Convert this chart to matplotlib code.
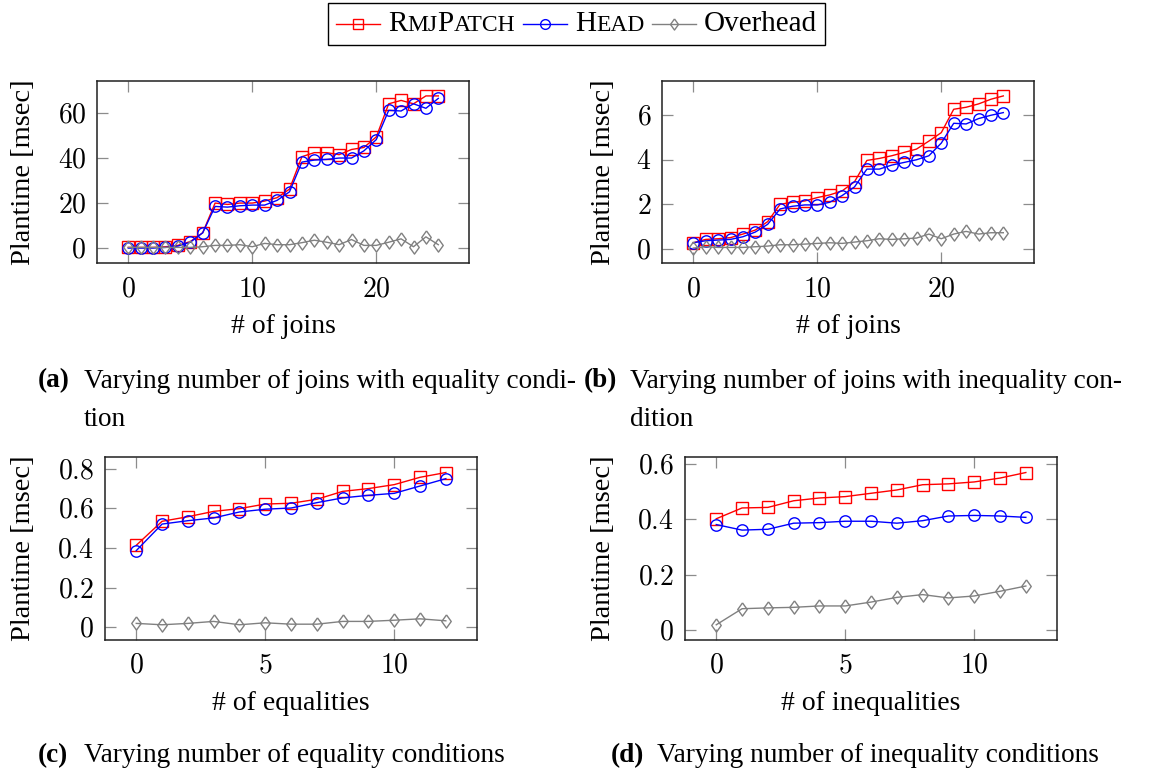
import matplotlib
matplotlib.use("Agg")
import matplotlib.pyplot as plt
from matplotlib.ticker import FuncFormatter, FixedLocator
from matplotlib.lines import Line2D
from matplotlib.offsetbox import AnchoredOffsetbox, DrawingArea, HPacker, TextArea

# ---- data ----
joins = list(range(26))
a_rmj = [0.3, 0.3, 0.3, 0.6, 1.2, 2.9, 6.8, 20.0, 19.4, 20.0, 20.0, 20.9, 22.4, 26.2,
         40.6, 42.4, 42.4, 41.5, 43.8, 44.7, 49.4, 64.1, 65.6, 64.1, 67.6, 67.6]
a_head = [0.0, 0.0, 0.0, 0.3, 0.9, 2.6, 6.8, 18.5, 18.2, 18.8, 19.1, 19.1, 21.2, 25.0,
          38.2, 39.1, 39.4, 40.0, 40.0, 43.2, 48.2, 61.2, 60.9, 64.1, 62.1, 66.5]
a_over = [0.3, 0.3, 0.3, 0.3, 0.3, 0.3, 0.6, 1.2, 1.2, 1.5, 0.6, 2.1, 1.5, 1.5,
          2.4, 3.5, 2.6, 1.5, 3.8, 1.2, 1.2, 2.6, 4.1, 0.6, 5.0, 1.5]

b_rmj = [0.27, 0.42, 0.45, 0.50, 0.66, 0.84, 1.22, 2.00, 2.09, 2.15, 2.30, 2.42, 2.60, 3.01,
         3.97, 4.06, 4.18, 4.33, 4.48, 4.84, 5.22, 6.27, 6.36, 6.51, 6.72, 6.87]
b_head = [0.27, 0.36, 0.39, 0.42, 0.54, 0.75, 1.10, 1.79, 1.91, 1.97, 1.97, 2.09, 2.39, 2.78,
          3.58, 3.58, 3.76, 3.88, 4.00, 4.18, 4.75, 5.64, 5.61, 5.85, 6.00, 6.12]
b_over = [0.03, 0.09, 0.06, 0.06, 0.06, 0.09, 0.12, 0.18, 0.18, 0.21, 0.24, 0.27, 0.24, 0.30,
          0.36, 0.45, 0.42, 0.45, 0.48, 0.66, 0.45, 0.66, 0.78, 0.66, 0.72, 0.72]

conds = list(range(13))
c_rmj = [0.413, 0.534, 0.557, 0.584, 0.598, 0.621, 0.625, 0.645, 0.685, 0.699, 0.719, 0.756, 0.780]
c_head = [0.386, 0.520, 0.537, 0.551, 0.581, 0.595, 0.601, 0.628, 0.652, 0.665, 0.675, 0.712, 0.749]
c_over = [0.019, 0.012, 0.019, 0.029, 0.012, 0.022, 0.015, 0.015, 0.029, 0.029, 0.035, 0.042, 0.032]

d_rmj = [0.402, 0.441, 0.443, 0.467, 0.477, 0.482, 0.494, 0.506, 0.525, 0.528, 0.535, 0.549, 0.569]
d_head = [0.381, 0.361, 0.364, 0.386, 0.388, 0.393, 0.393, 0.386, 0.395, 0.412, 0.414, 0.412, 0.407]
d_over = [0.019, 0.077, 0.080, 0.082, 0.087, 0.087, 0.101, 0.118, 0.128, 0.116, 0.123, 0.140, 0.159]

plt.rcParams['font.family'] = ['Liberation Serif', 'DejaVu Serif']
plt.rcParams['mathtext.fontset'] = 'cm'
FS = 20
CAP_FS = 19.6

W, H = 1159, 778
fig = plt.figure(figsize=(W / 100, H / 100), dpi=100)

# pgfplots-like diamond
diamond = [(0, 1), (0.72, 0), (0, -1), (-0.72, 0), (0, 1)]
RED, BLUE, GRAY = '#ff0000', '#0000ff', '#808080'


def px_axes(left, top, right, bottom):
    return fig.add_axes([left / W, 1 - bottom / H, (right - left) / W, (bottom - top) / H])


def draw(ax, x, rmj, head, over, xticks, yticks, xlabel, ylab_off):
    ax.plot(x, rmj, color=RED, lw=1.0, marker='s', ms=8.2, mfc='none', mew=1.0)
    ax.plot(x, head, color=BLUE, lw=1.0, marker='o', ms=8.2, mfc='none', mew=1.0)
    ax.plot(x, over, color=GRAY, lw=1.0, marker=diamond, ms=9.5, mfc='none', mew=1.0)
    ax.margins(0.1)
    ax.xaxis.set_major_locator(FixedLocator(xticks))
    ax.yaxis.set_major_locator(FixedLocator(yticks))
    fmt = FuncFormatter(lambda v, p: f'${v:g}$')
    ax.xaxis.set_major_formatter(fmt)
    ax.yaxis.set_major_formatter(fmt)
    ax.tick_params(direction='in', length=8, width=0.9, color='#8c8c8c',
                   top=True, right=True, labelsize=FS)
    ax.tick_params(axis='x', pad=10)
    ax.tick_params(axis='y', pad=8)
    for s in ax.spines.values():
        s.set_linewidth(1.1)
        s.set_color('#202020')
    ax.set_xlabel(xlabel, fontsize=FS, va='center')
    ax.set_ylabel('Plantime [msec]', fontsize=20.5, va='center')
    bb = ax.get_position()
    hpx = bb.height * H
    wpx = bb.width * W
    ax.xaxis.set_label_coords(0.5, -63 / hpx)
    ax.yaxis.set_label_coords(ylab_off / wpx, 0.5)


ax_a = px_axes(97.3, 80.7, 469.3, 263.3)
draw(ax_a, joins, a_rmj, a_head, a_over, [0, 10, 20], [0, 20, 40, 60], '# of joins', -74)
ax_b = px_axes(662.3, 80.7, 1034.3, 263.3)
draw(ax_b, joins, b_rmj, b_head, b_over, [0, 10, 20], [0, 2, 4, 6], '# of joins', -59)
ax_c = px_axes(105.3, 457.3, 476.8, 640)
draw(ax_c, conds, c_rmj, c_head, c_over, [0, 5, 10], [0, 0.2, 0.4, 0.6, 0.8], '# of equalities', -82)
ax_d = px_axes(685.3, 457.3, 1056.8, 640)
draw(ax_d, conds, d_rmj, d_head, d_over, [0, 5, 10], [0, 0.2, 0.4, 0.6], '# of inequalities', -82)

# captions
captions = [
    (38, 84, 381, '(a)', ['Varying number of joins with equality condi-', 'tion']),
    (584, 630, 381, '(b)', ['Varying number of joins with inequality con-', 'dition']),
    (38, 84, 756, '(c)', ['Varying number of equality conditions']),
    (611, 657, 756, '(d)', ['Varying number of inequality conditions']),
]
for xl, xt, y, tag, lines in captions:
    fig.text(xl / W, 1 - y / H, tag, fontsize=CAP_FS, weight='bold', va='center', ha='left')
    for i, ln in enumerate(lines):
        fig.text(xt / W, 1 - (y + 38 * i) / H, ln, fontsize=CAP_FS, va='center', ha='left')


# legend with small caps labels
def handle(color, marker, ms):
    da = DrawingArea(32, 14, 0, 0)
    da.add_artist(Line2D([0, 32], [7, 7], color=color, lw=1.0))
    da.add_artist(Line2D([16], [7], color=color, marker=marker, ms=ms, mfc='none', mew=1.0))
    return da


def label(parts):
    boxes = [TextArea(t, textprops=dict(size=s, family='Liberation Serif')) for t, s in parts]
    return HPacker(children=boxes, sep=0, pad=0, align='baseline')


LFS, SC = 21, 17
items = [
    handle(RED, 's', 6.8), label([('R', LFS), ('MJ', SC), ('P', LFS), ('ATCH', SC)]),
    handle(BLUE, 'o', 7.0), label([('H', LFS), ('EAD', SC)]),
    handle(GRAY, diamond, 8.0), label([('Overhead', LFS)]),
]
row = HPacker(children=items, sep=5.5, pad=0, align='center')
leg = AnchoredOffsetbox(loc='upper center', child=row, pad=0.28, borderpad=0.12,
                        frameon=True, bbox_to_anchor=(0.4974, 1.0),
                        bbox_transform=fig.transFigure, prop=dict(size=FS))
leg.patch.set_edgecolor('black')
leg.patch.set_linewidth(1.0)
fig.add_artist(leg)

fig.savefig('out.png', dpi=100)
